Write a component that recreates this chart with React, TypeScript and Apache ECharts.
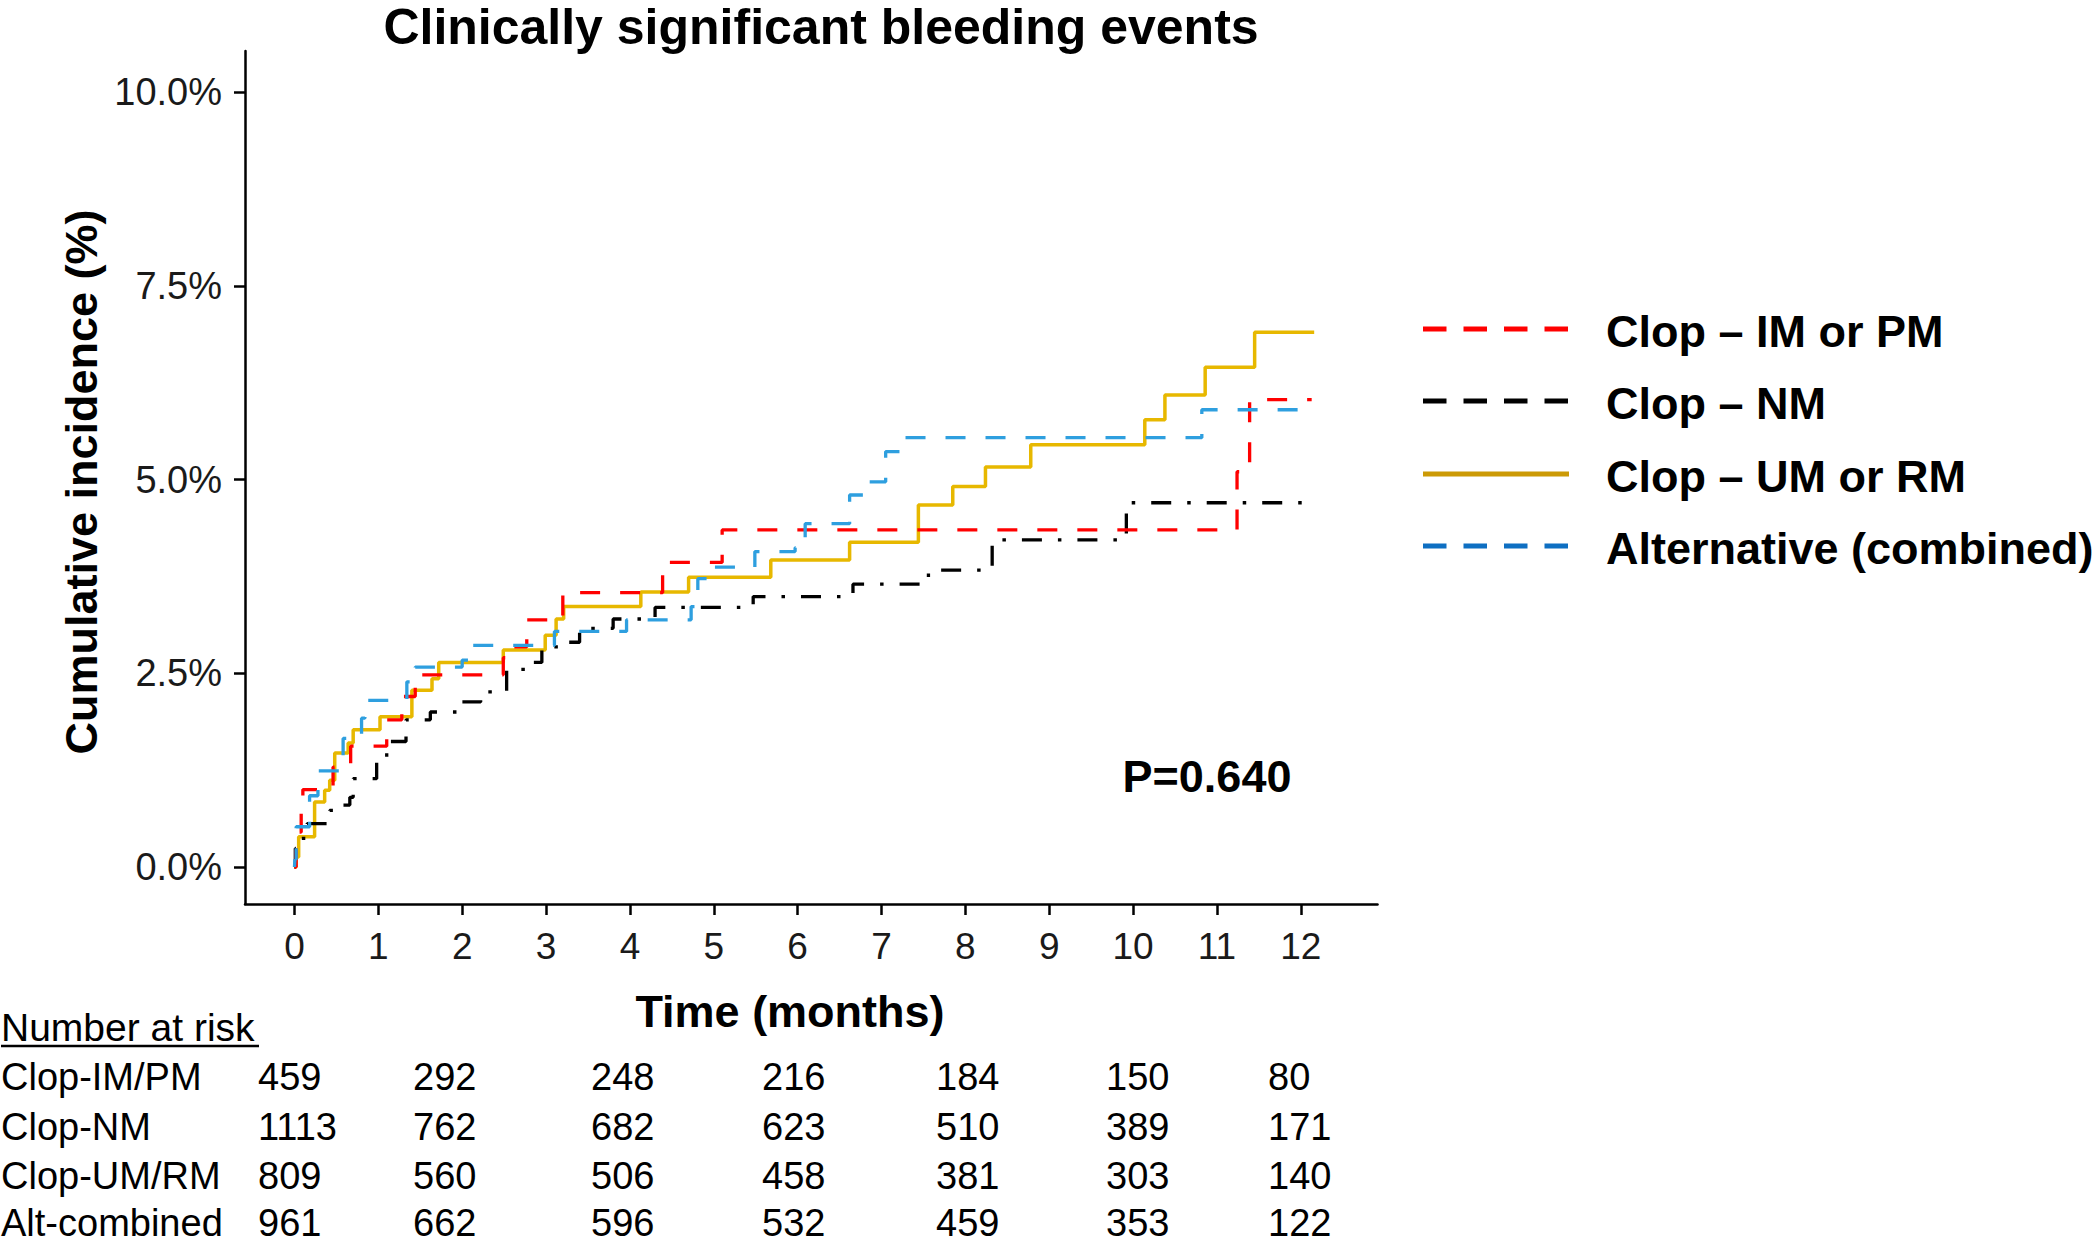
import React, { useEffect, useRef } from "react";
import * as echarts from "echarts";

const W = 2097;
const H = 1244;
const FONT = '"Liberation Sans", Arial, Helvetica, sans-serif';

// ---- axes ----
const timeTicks = [0, 1, 2, 3, 4, 5, 6, 7, 8, 9, 10, 11, 12];
const incidenceTicks = [0, 2.5, 5, 7.5, 10];

// ---- series (time in months, cumulative incidence in %) ----
const imPmTime = [0, 0.02, 0.05, 0.08, 0.1, 0.46, 0.67, 1.1, 1.28, 1.44, 2.49, 2.58, 2.77, 3.2, 4.39, 5.1, 11.24, 11.39, 12.13];
const imPmInc = [0, 0.22, 0.45, 0.7, 1.0, 1.29, 1.56, 1.9, 2.2, 2.48, 2.7, 2.84, 3.19, 3.54, 3.93, 4.35, 5.1, 6.03, 6.03];

const nmTime = [0, 0.01, 0.08, 0.15, 0.42, 0.52, 0.66, 0.7, 0.98, 1.1, 1.33, 1.62, 1.95, 2.22, 2.53, 2.8, 2.95, 3.2, 3.4, 3.8, 4.3, 5.47, 6.66, 7.5, 7.56, 8.32, 9.92, 12.1];
const nmInc = [0, 0.24, 0.37, 0.56, 0.73, 0.8, 0.9, 1.14, 1.4, 1.62, 1.9, 2.0, 2.13, 2.26, 2.55, 2.64, 2.84, 2.9, 3.08, 3.2, 3.35, 3.49, 3.65, 3.7, 3.83, 4.22, 4.7, 4.7];

const umRmTime = [0, 0.02, 0.05, 0.24, 0.36, 0.42, 0.48, 0.64, 0.7, 1.02, 1.4, 1.64, 1.72, 2.49, 2.99, 3.12, 3.21, 4.13, 4.7, 5.68, 6.62, 7.44, 7.85, 8.24, 8.78, 10.14, 10.38, 10.86, 11.45, 12.16];
const umRmInc = [0, 0.13, 0.39, 0.84, 0.99, 1.12, 1.47, 1.6, 1.77, 1.94, 2.28, 2.43, 2.64, 2.8, 2.99, 3.2, 3.36, 3.55, 3.74, 3.96, 4.19, 4.67, 4.91, 5.16, 5.45, 5.77, 6.09, 6.45, 6.9, 6.9];

const altTime = [0, 0.005, 0.02, 0.18, 0.28, 0.58, 0.8, 0.84, 1.34, 1.44, 2.0, 2.12, 3.1, 3.96, 4.73, 4.81, 4.97, 5.49, 5.97, 6.09, 6.62, 6.8, 7.05, 7.22, 10.82, 12.15];
const altInc = [0, 0.1, 0.52, 0.92, 1.24, 1.66, 1.92, 2.15, 2.39, 2.58, 2.67, 2.86, 3.04, 3.19, 3.36, 3.72, 3.87, 4.07, 4.12, 4.43, 4.8, 4.97, 5.36, 5.54, 5.9, 5.9];

const legendLabels = ["Clop – IM or PM", "Clop – NM", "Clop – UM or RM", "Alternative (combined)"];

// ---- number at risk table ----
const riskRowLabels = ["Clop-IM/PM", "Clop-NM", "Clop-UM/RM", "Alt-combined"];
const riskImPm = [459, 292, 248, 216, 184, 150, 80];
const riskNm = [1113, 762, 682, 623, 510, 389, 171];
const riskUmRm = [809, 560, 506, 458, 381, 303, 140];
const riskAlt = [961, 662, 596, 532, 459, 353, 122];
const pValueText = "P=0.640";

const zip = (t: number[], v: number[]) => t.map((x, i) => [x, v[i]]);

export default function App() {
  const ref = useRef<HTMLDivElement>(null);

  useEffect(() => {
    document.body.style.margin = "0";
    document.body.style.overflow = "hidden";
    if (!ref.current) return;
    const chart = echarts.init(ref.current, undefined, { renderer: "svg" });

    const plotColors = ["#FF0000", "#000000", "#E7B800", "#2E9FDF"];
    const legendColors = ["#FF0000", "#000000", "#CC9A06", "#0E6FC2"];
    const legendDash: (number[] | null)[] = [[23.5, 17], [23.5, 17], null, [23.5, 17]];
    const legendY = [329, 401, 474, 546];

    const mkLine = (name: string, t: number[], v: number[], color: string, type: any, width: number) => ({
      name,
      type: "line",
      step: "end",
      data: zip(t, v),
      symbol: "none",
      showSymbol: false,
      lineStyle: { color, width, type, cap: "butt" },
      emphasis: { disabled: true },
      silent: true,
    });

    const graphics: any[] = [];
    const text = (t: string, x: number, y: number, font: string, align = "left", extra: any = {}) => ({
      type: "text",
      x,
      y,
      ...extra,
      style: {
        text: t,
        x: 0,
        y: 0,
        font,
        fill: "#000",
        align,
        textAlign: align,
        verticalAlign: "middle",
        textVerticalAlign: "middle",
      },
    });

    // title & axis titles
    graphics.push(text("Clinically significant bleeding events", 821, 26.5, `bold 50px ${FONT}`, "center"));
    graphics.push(text("Time (months)", 790, 1011, `bold 45px ${FONT}`, "center"));
    graphics.push(text("Cumulative incidence (%)", 81, 482, `bold 45px ${FONT}`, "center", { rotation: Math.PI / 2 }));
    graphics.push(text(pValueText, 1207, 776, `bold 45px ${FONT}`, "center"));

    // legend
    legendLabels.forEach((lab, i) => {
      graphics.push({
        type: "line",
        shape: { x1: 1423, y1: legendY[i], x2: 1569, y2: legendY[i] },
        style: { stroke: legendColors[i], lineWidth: 5, lineDash: legendDash[i] || undefined, lineCap: "butt" },
      });
      graphics.push(text(lab, 1606, legendY[i] + 2, `bold 45px ${FONT}`, "left"));
    });

    // number at risk table
    graphics.push(text("Number at risk", 1, 1027, `39px ${FONT}`, "left"));
    graphics.push({
      type: "line",
      shape: { x1: 1, y1: 1046, x2: 259, y2: 1046 },
      style: { stroke: "#000", lineWidth: 2.5 },
    });
    const rowY = [1077, 1127, 1176, 1223];
    const colX = [258, 413, 591, 762, 936, 1106, 1268];
    const rows = [riskImPm, riskNm, riskUmRm, riskAlt];
    rows.forEach((row, r) => {
      graphics.push(text(riskRowLabels[r], 1, rowY[r], `38px ${FONT}`, "left"));
      row.forEach((n, c) => {
        graphics.push(text(String(n), colX[c], rowY[r], `38px ${FONT}`, "left"));
      });
    });

    const axisCommon = {
      axisLine: { show: true, onZero: false, lineStyle: { color: "#000", width: 2.5 } },
      splitLine: { show: false },
    };

    chart.setOption({
      animation: false,
      textStyle: { fontFamily: FONT },
      grid: { left: 245, right: W - 1377.5, top: 51, bottom: H - 904, containLabel: false },
      xAxis: {
        type: "value",
        min: -0.59,
        max: 12.915,
        ...axisCommon,
        axisTick: { show: true, length: 11, lineStyle: { color: "#000", width: 2.5 }, customValues: timeTicks },
        axisLabel: {
          customValues: timeTicks,
          fontSize: 37,
          color: "#1a1a1a",
          margin: 24,
          fontFamily: FONT,
        },
      },
      yAxis: {
        type: "value",
        min: -0.477,
        max: 10.529,
        ...axisCommon,
        axisTick: { show: true, length: 11, lineStyle: { color: "#000", width: 2.5 }, customValues: incidenceTicks },
        axisLabel: {
          customValues: incidenceTicks,
          fontSize: 38,
          color: "#1a1a1a",
          margin: 23,
          fontFamily: FONT,
          formatter: (v: number) => v.toFixed(1) + "%",
        },
      },
      series: [
        mkLine(legendLabels[2], umRmTime, umRmInc, plotColors[2], "solid", 3.5),
        mkLine(legendLabels[1], nmTime, nmInc, plotColors[1], [20, 16, 3.5, 16], 3.3),
        mkLine(legendLabels[0], imPmTime, imPmInc, plotColors[0], [20, 20], 3.3),
        mkLine(legendLabels[3], altTime, altInc, plotColors[3], [20, 20], 3.3),
      ],
      graphic: graphics,
    });

    return () => chart.dispose();
  }, []);

  return (
    <div
      ref={ref}
      style={{ position: "absolute", left: 0, top: 0, width: W, height: H, background: "#fff" }}
    />
  );
}
